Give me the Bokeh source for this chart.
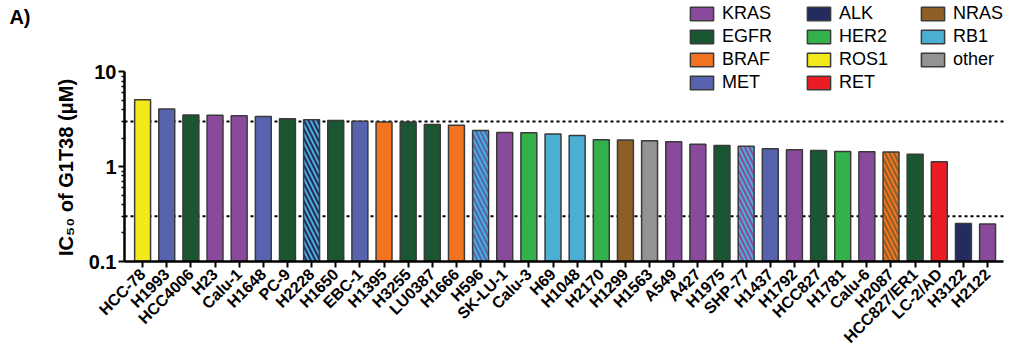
import math
from bokeh.plotting import figure
from bokeh.models import (Range1d, FixedTicker, CustomJSTickFormatter, LinearScale,
                          Legend, LegendItem, ColumnDataSource, LinearAxis)
from bokeh.embed import file_html
from bokeh.resources import INLINE

# ---------------- data ----------------
cell_lines = ["HCC-78", "H1993", "HCC4006", "H23", "Calu-1", "H1648", "PC-9", "H2228",
              "H1650", "EBC-1", "H1395", "H3255", "LU0387", "H1666", "H596", "SK-LU-1",
              "Calu-3", "H69", "H1048", "H2170", "H1299", "H1563", "A549", "A427",
              "H1975", "SHP-77", "H1437", "H1792", "HCC827", "H1781", "Calu-6", "H2087",
              "HCC827/ER1", "LC-2/AD", "H3122", "H2122"]
ic50_uM = [5.09, 4.07, 3.52, 3.49, 3.44, 3.38, 3.20, 3.14,
           3.07, 3.02, 2.97, 2.96, 2.79, 2.74, 2.41, 2.30,
           2.28, 2.21, 2.14, 1.93, 1.91, 1.88, 1.84, 1.73,
           1.67, 1.64, 1.55, 1.51, 1.48, 1.45, 1.44, 1.43,
           1.35, 1.13, 0.252, 0.248]
mutation = ["ROS1", "MET", "EGFR", "KRAS", "KRAS", "MET", "EGFR", "ALK",
            "EGFR", "MET", "BRAF", "EGFR", "EGFR", "BRAF", "MET", "KRAS",
            "HER2", "RB1", "RB1", "HER2", "NRAS", "other", "KRAS", "KRAS",
            "EGFR", "KRAS", "MET", "KRAS", "EGFR", "HER2", "KRAS", "BRAF",
            "EGFR", "RET", "ALK", "KRAS"]
co_mutation = ["", "", "", "", "", "", "", "RB1",
               "", "", "", "", "", "", "RB1", "",
               "", "", "", "", "", "", "", "",
               "", "RB1", "", "", "", "", "", "NRAS",
               "", "", "", ""]
legend_col1 = ["KRAS", "EGFR", "BRAF", "MET"]
legend_col2 = ["ALK", "HER2", "ROS1", "RET"]
legend_col3 = ["NRAS", "RB1", "other"]
y_ticks = [0.1, 1, 10]
y_minor = [0.2, 0.3, 0.4, 0.5, 0.6, 0.7, 0.8, 0.9, 2, 3, 4, 5, 6, 7, 8, 9]
thresholds = [3, 0.3]
y_title = "IC\u2085\u2080 of G1T38 (\u03bcM)"
panel_tag = "A)"

# ---------------- styles ----------------
colors = {"KRAS": "#8A4A9B", "EGFR": "#1A5632", "BRAF": "#F47321", "MET": "#5763AE",
          "ALK": "#242B5E", "HER2": "#33B24B", "ROS1": "#F2E91A", "RET": "#EC1C24",
          "NRAS": "#8E5F25", "RB1": "#4AAFD3", "other": "#939393"}
OUT = "#3a3a3a"
FONT = "Liberation Sans"

n = len(cell_lines)
xs = list(range(n))
src = ColumnDataSource(dict(
    x=xs, top=ic50_uM, bottom=[0.1] * n,
    fill=[colors[m] for m in mutation],
    hatch=[colors[c] if c else colors[m] for m, c in zip(mutation, co_mutation)],
    pattern=["\\" if c else " " for c in co_mutation],
))

W, H = 1024, 355
L, B = 124, 92
AXIS_TOP_PX = 72                    # pixel row where the value 10 sits
AXIS_RIGHT_PX = 1003                # pixel column where the x axis ends
fh = H - B                          # frame spans from the top of the canvas
u = (fh + AXIS_TOP_PX) / (fh - AXIS_TOP_PX)   # log10 of range top so that 10 lands at AXIS_TOP_PX
y_top = 10 ** u
x0, x1 = -0.75, n - 1 + 0.66        # visible axis extent
x_end = x1 + (W - AXIS_RIGHT_PX) * (x1 - x0) / (AXIS_RIGHT_PX - L)

p = figure(width=W, height=H, output_backend="svg", toolbar_location=None, title=None,
           y_axis_type="log", x_range=Range1d(x0, x_end), y_range=Range1d(0.1, y_top),
           min_border_left=L, min_border_right=0, min_border_top=0, min_border_bottom=B)
p.outline_line_color = None
p.xgrid.visible = False
p.ygrid.visible = False

# threshold lines (behind the bars), spanning the visible x axis
thr = ColumnDataSource(dict(y=thresholds, xa=[x0] * len(thresholds), xb=[x1] * len(thresholds)))
p.segment(x0="xa", x1="xb", y0="y", y1="y", source=thr, line_color="black",
          line_dash="3 3", line_width=2)

bars = p.vbar(x="x", top="top", bottom="bottom", width=0.66, source=src,
              fill_color="fill", line_color=OUT, line_width=1.5,
              hatch_pattern="pattern", hatch_color="hatch", hatch_scale=9, hatch_weight=2)

# axes
p.xaxis.ticker = FixedTicker(ticks=xs)
p.xaxis.bounds = (x0, x1)
p.xaxis.major_label_overrides = {i: name for i, name in enumerate(cell_lines)}
p.xaxis.major_label_orientation = math.pi / 4
p.xaxis.major_label_text_font = FONT
p.xaxis.major_label_text_font_style = "bold"
p.xaxis.major_label_text_font_size = "16px"
p.xaxis.major_label_standoff = 4
p.xaxis.minor_tick_line_color = None

p.yaxis.ticker = FixedTicker(ticks=y_ticks, minor_ticks=y_minor)
p.yaxis.bounds = (0.1, 10)
p.yaxis.formatter = CustomJSTickFormatter(code="return tick.toString()")
p.yaxis.major_label_text_font = FONT
p.yaxis.major_label_text_font_style = "bold"
p.yaxis.major_label_text_font_size = "20px"
p.yaxis.major_label_standoff = 2
p.yaxis.minor_tick_out = 3
p.yaxis.minor_tick_in = 0
p.yaxis.minor_tick_line_width = 1.5

for ax in (p.xaxis, p.yaxis):
    ax.axis_line_width = 2.5
    ax.axis_line_color = "black"
    ax.major_tick_line_width = 2
    ax.major_tick_line_color = "black"
    ax.major_tick_out = 6
    ax.major_tick_in = 0
    ax.major_label_text_color = "black"

# pixel-row range (measured from the top) for placing texts left of the frame
p.extra_y_ranges = {"px": Range1d(fh, 0)}
p.extra_y_scales = {"px": LinearScale()}

def hidden_axis(tick_row, text, size, standoff, angle=0.0):
    return LinearAxis(y_range_name="px", ticker=FixedTicker(ticks=[tick_row]),
                      major_label_overrides={tick_row: text},
                      axis_line_color=None, major_tick_line_color=None,
                      minor_tick_line_color=None, major_label_standoff=standoff,
                      major_label_orientation=angle,
                      major_label_text_font=FONT, major_label_text_font_style="bold",
                      major_label_text_font_size=size, major_label_text_color="black")

# y-axis title (rotated) and panel letter
p.add_layout(hidden_axis(79, y_title, "20px", 13, math.pi / 2), "left")
p.add_layout(hidden_axis(17, panel_tag, "20px", 5), "left")

# legend (three columns) using representative bars for the swatches
def make_legend(names, vx, top_px):
    items = []
    for nm in names:
        idx = next(i for i, (m, c) in enumerate(zip(mutation, co_mutation)) if m == nm and not c)
        items.append(LegendItem(label=nm, renderers=[bars], index=idx))
    item_h, gap = 21, 2
    height = len(names) * item_h + (len(names) - 1) * gap
    lg = Legend(items=items, location=(vx, fh - top_px - height), glyph_width=29,
                glyph_height=17, label_height=17, label_standoff=6, spacing=gap,
                padding=0, margin=0, border_line_alpha=0, background_fill_alpha=0,
                label_text_color="black", label_text_font=FONT, label_text_font_size="18px")
    p.add_layout(lg)

make_legend(legend_col1, 687 - L, 5)
make_legend(legend_col2, 804 - L, 5)
make_legend(legend_col3, 918 - L, 5)

open("out.html", "w").write(file_html(p, INLINE))
